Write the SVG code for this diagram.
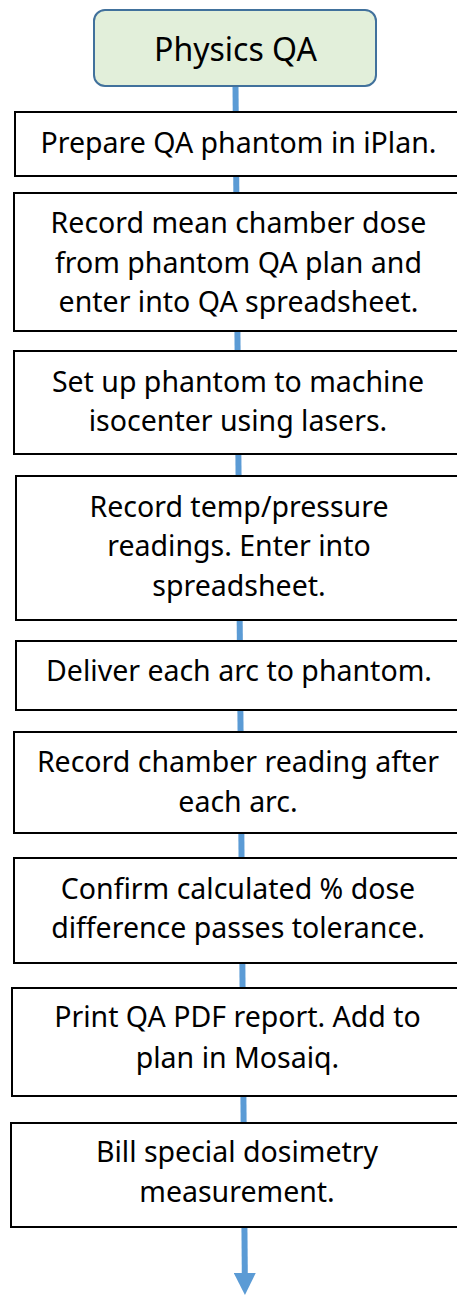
<svg xmlns="http://www.w3.org/2000/svg" width="457" height="1295" viewBox="0 0 457 1295">
<style>
.box{fill:#fff;stroke:#000;stroke-width:2}
.t{font-family:"Noto Sans","Open Sans",sans-serif;font-size:28.5px;fill:#000;text-anchor:middle}
.title{font-size:32px}
.conn{stroke:#5b9bd5;stroke-width:6;fill:none}
</style>
<defs>
<marker id="ah" markerUnits="userSpaceOnUse" markerWidth="24" markerHeight="22" refX="2" refY="11" orient="auto" viewBox="0 0 24 22">
<path d="M0,0 L22,11 L0,22 Z" fill="#5b9bd5"/>
</marker>
</defs>
<g id="connectors">
<line class="conn" x1="235.5" y1="86" x2="244.8" y2="1275" marker-end="url(#ah)"/>
</g>
<g id="start">
<rect x="94" y="10" width="282" height="76" rx="11" fill="#e2efda" stroke="#41719c" stroke-width="2"/>
<text class="t title" x="235.5" y="61">Physics QA</text>
</g>
<g id="step1">
<rect class="box" x="15" y="112" width="460" height="64"/>
<text class="t" x="238.5" y="153">Prepare QA phantom in iPlan.</text>
</g>
<g id="step2">
<rect class="box" x="14" y="193" width="460" height="138"/>
<text class="t" x="238.5" y="233">Record mean chamber dose</text>
<text class="t" x="238.5" y="273">from phantom QA plan and</text>
<text class="t" x="238.5" y="312">enter into QA spreadsheet.</text>
</g>
<g id="step3">
<rect class="box" x="14" y="351" width="460" height="103"/>
<text class="t" x="238" y="392">Set up phantom to machine</text>
<text class="t" x="238" y="431">isocenter using lasers.</text>
</g>
<g id="step4">
<rect class="box" x="16" y="476" width="460" height="144"/>
<text class="t" x="239" y="517">Record temp/pressure</text>
<text class="t" x="239" y="556">readings. Enter into</text>
<text class="t" x="239" y="596">spreadsheet.</text>
</g>
<g id="step5">
<rect class="box" x="16" y="641" width="460" height="69"/>
<text class="t" x="239" y="681">Deliver each arc to phantom.</text>
</g>
<g id="step6">
<rect class="box" x="14" y="732" width="460" height="101"/>
<text class="t" x="238" y="772">Record chamber reading after</text>
<text class="t" x="238" y="812">each arc.</text>
</g>
<g id="step7">
<rect class="box" x="14" y="858" width="460" height="105"/>
<text class="t" x="238" y="899">Confirm calculated % dose</text>
<text class="t" x="238" y="938">difference passes tolerance.</text>
</g>
<g id="step8">
<rect class="box" x="12" y="988" width="460" height="108"/>
<text class="t" x="237.5" y="1027">Print QA PDF report. Add to</text>
<text class="t" x="237.5" y="1068">plan in Mosaiq.</text>
</g>
<g id="step9">
<rect class="box" x="11" y="1123" width="460" height="104"/>
<text class="t" x="237" y="1162">Bill special dosimetry</text>
<text class="t" x="237" y="1202">measurement.</text>
</g>
</svg>
